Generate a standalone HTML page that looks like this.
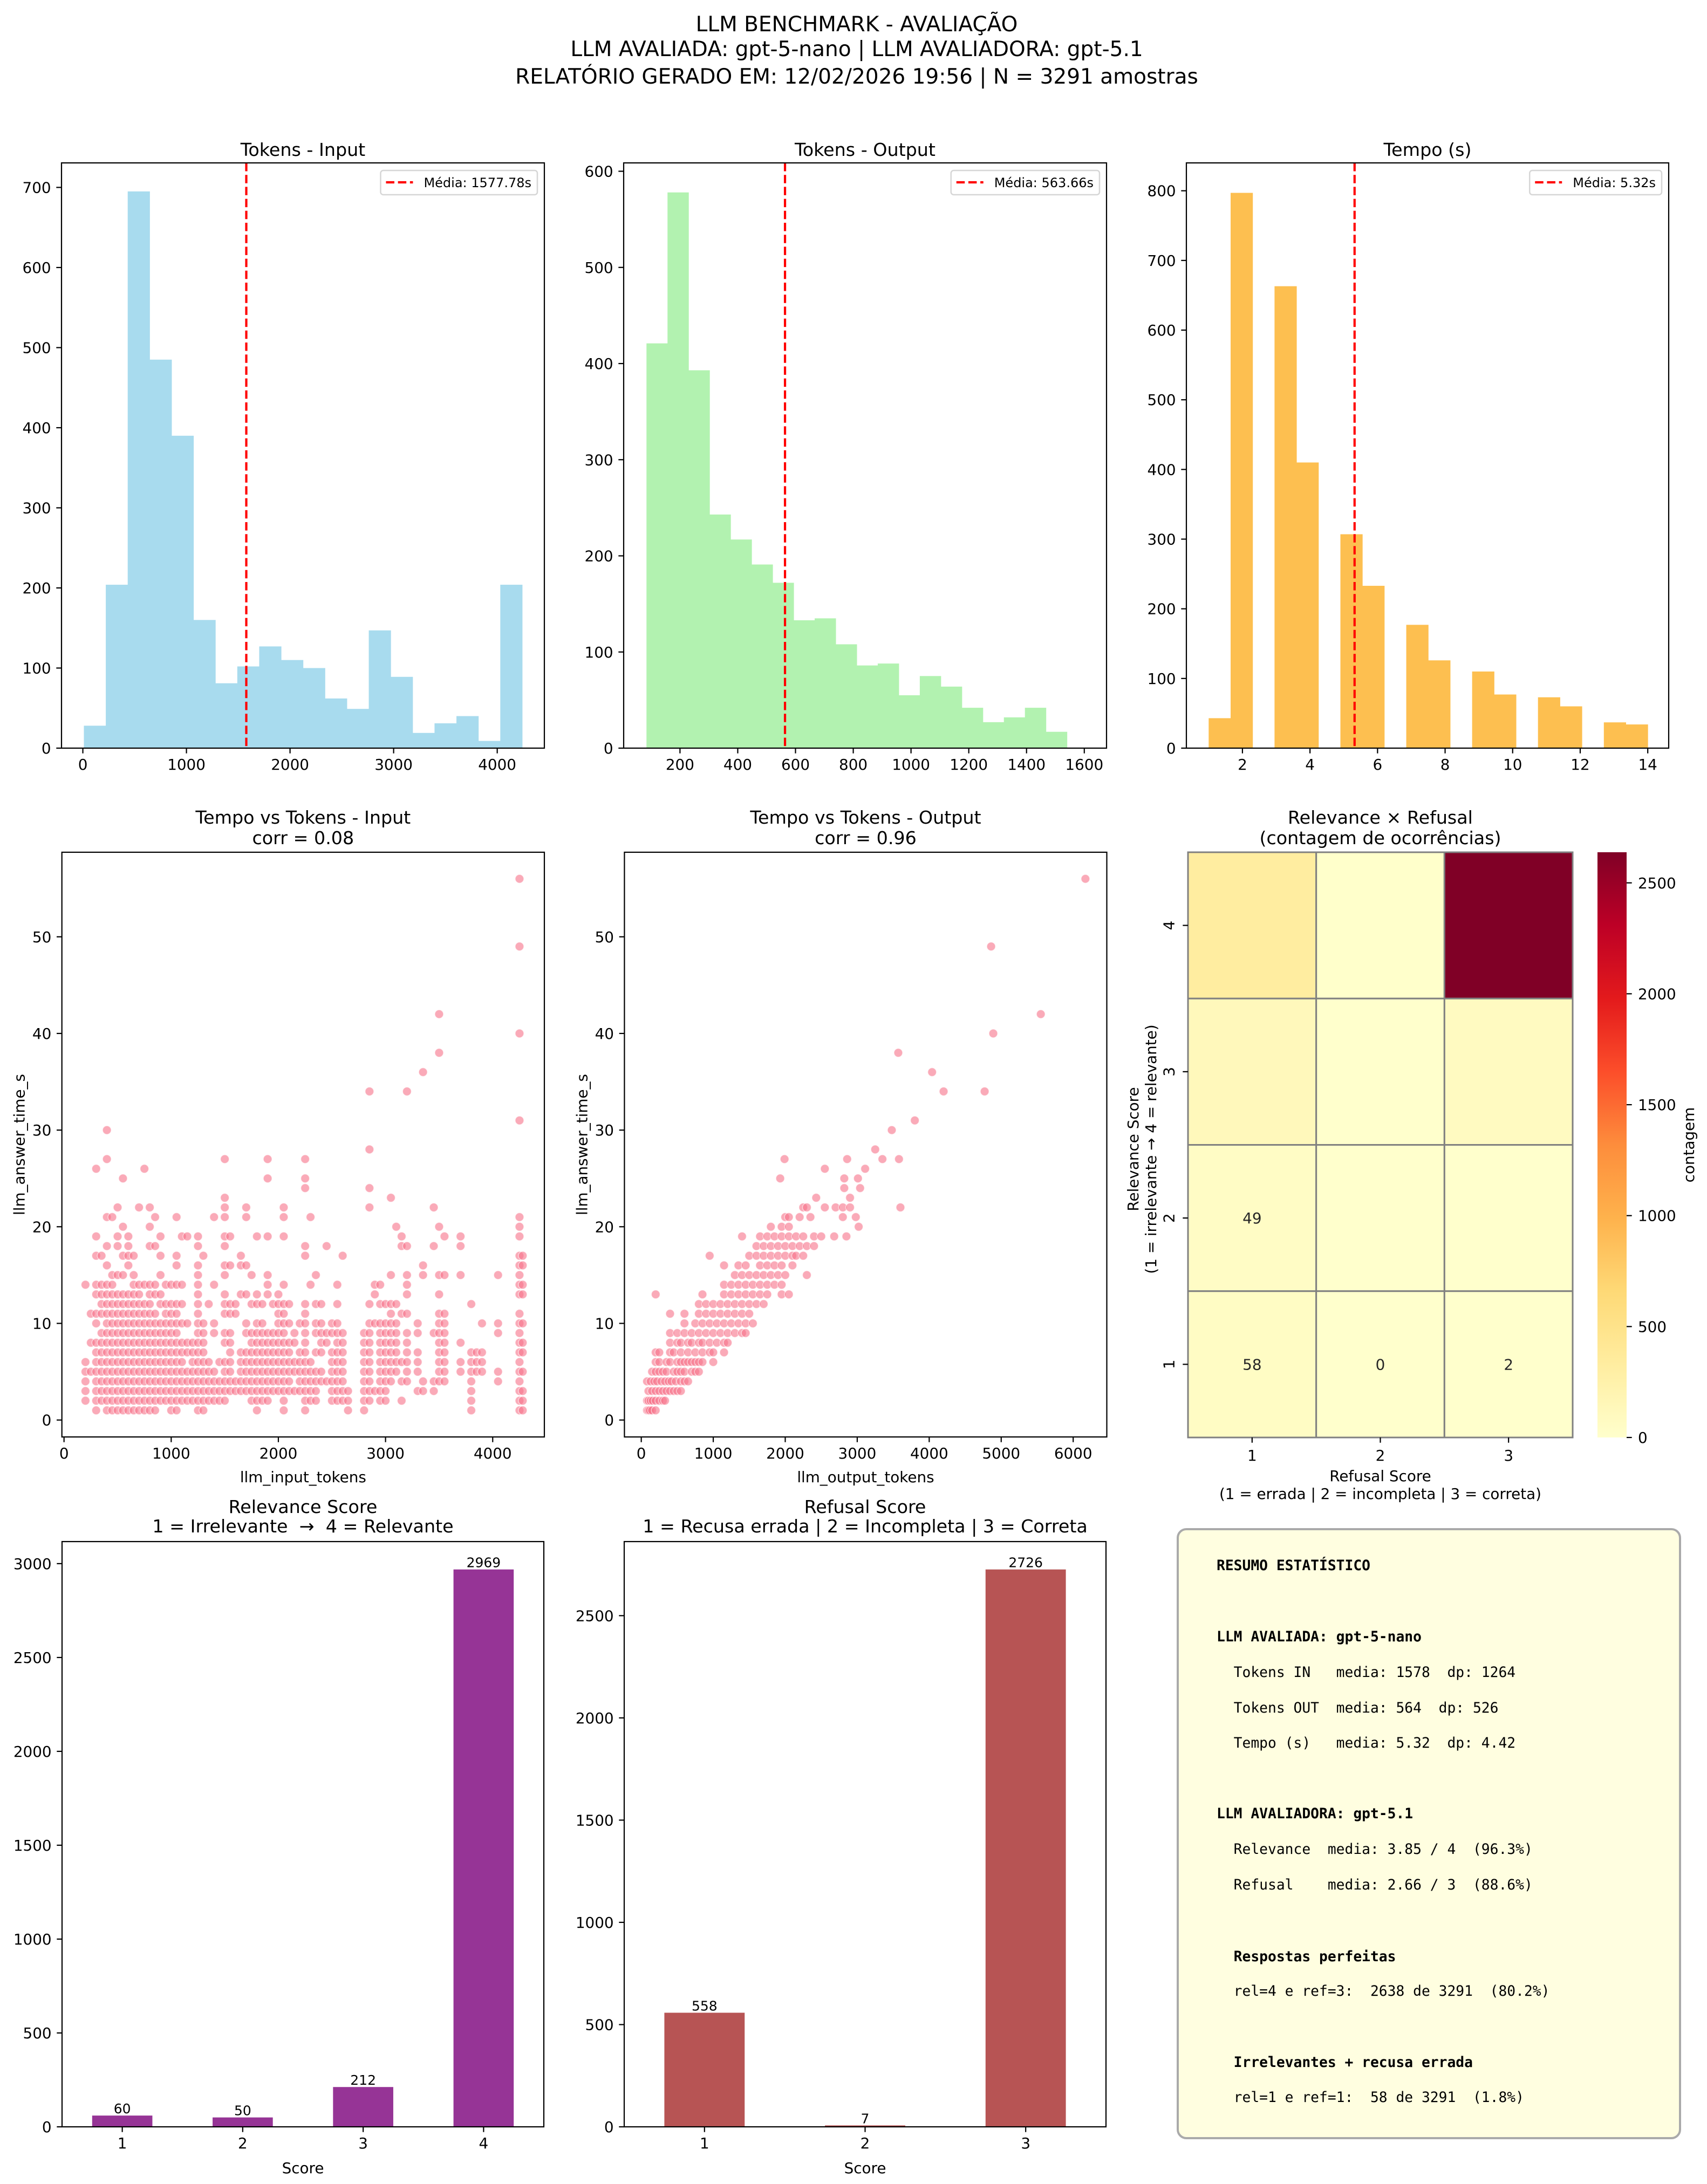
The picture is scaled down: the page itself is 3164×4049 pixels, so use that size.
<!DOCTYPE html>
<html><head><meta charset="utf-8">
<style>
html,body{margin:0;padding:0;background:#fff;}
svg{display:block;font-family:"DejaVu Sans","Liberation Sans",sans-serif;}
svg text{white-space:pre;}
.mono{font-family:"DejaVu Sans Mono","Liberation Mono",monospace;}
</style></head>
<body>
<svg id="fig" xmlns="http://www.w3.org/2000/svg" width="3164" height="4049" viewBox="0 0 3164 4049">
<rect width="3164" height="4049" fill="#fff"/>
<g font-size="39" text-anchor="middle">
<text x="1588" y="58">LLM BENCHMARK - AVALIAÇÃO</text>
<text x="1588" y="104">LLM AVALIADA: gpt-5-nano | LLM AVALIADORA: gpt-5.1</text>
<text x="1588" y="155">RELATÓRIO GERADO EM: 12/02/2026 19:56 | N = 3291 amostras</text>
</g>
<g>
<rect x="2183" y="2835" width="931" height="1129" rx="16" fill="#fffee0" stroke="#aaaaaa" stroke-width="4"/>
<g class="mono" font-size="26.3">
<text x="2255" y="2911" font-weight="bold">RESUMO ESTATÍSTICO</text>
<text x="2255" y="3043" font-weight="bold">LLM AVALIADA: gpt-5-nano</text>
<text x="2255" y="3109">  Tokens IN   media: 1578  dp: 1264</text>
<text x="2255" y="3175">  Tokens OUT  media: 564  dp: 526</text>
<text x="2255" y="3240">  Tempo (s)   media: 5.32  dp: 4.42</text>
<text x="2255" y="3371" font-weight="bold">LLM AVALIADORA: gpt-5.1</text>
<text x="2255" y="3437">  Relevance  media: 3.85 / 4  (96.3%)</text>
<text x="2255" y="3503">  Refusal    media: 2.66 / 3  (88.6%)</text>
<text x="2255" y="3636" font-weight="bold">  Respostas perfeitas</text>
<text x="2255" y="3700">  rel=4 e ref=3:  2638 de 3291  (80.2%)</text>
<text x="2255" y="3832" font-weight="bold">  Irrelevantes + recusa errada</text>
<text x="2255" y="3897">  rel=1 e ref=1:  58 de 3291  (1.8%)</text>
</g>
</g>
</svg>
<script>
// ---------- DATA ----------
const inCounts = [28,204,695,485,390,160,81,102,127,110,100,62,49,147,89,19,31,40,9,204];
const inBinStart = 10, inBinWidth = 211.55, inMean = 1577.78;
const outCounts = [421,578,393,243,217,191,172,133,135,108,86,88,55,75,64,42,27,32,42,17];
const outBinStart = 84, outBinWidth = 72.8, outMean = 563.66;
const timeCounts = [43,797,0,663,410,0,307,233,0,177,126,0,110,77,0,73,60,0,37,34];
const timeBinStart = 1, timeBinWidth = 0.65, timeMean = 5.32;

// scatter input: [tokens, [times...]]
const inputCols = [
[200,[2,3,4,5,6,14]],[250,[5,8,11]],[300,[1,2,3,4,5,6,7,8,10,11,13,14,17,19,26]],
[350,[2,3,4,5,6,7,8,9,11,12,13,14,17]],[400,[1,2,3,4,5,6,7,8,9,10,11,12,13,14,16,18,21,27,30]],
[450,[1,2,3,4,5,6,7,8,9,10,11,12,13,14,15,21]],[500,[1,2,3,4,5,6,7,8,9,10,11,12,13,15,18,19,22]],
[550,[1,2,3,4,5,6,7,8,9,10,11,12,13,15,17,20,25]],[600,[1,2,3,4,5,6,7,8,9,10,11,12,13,16,17,18,19]],
[650,[1,2,3,4,5,6,7,8,9,10,11,12,13,14,15,17]],[700,[1,2,3,4,5,6,7,8,9,10,11,12,13,14,22]],
[750,[1,2,3,4,5,6,7,8,9,10,11,12,14,26]],[800,[1,2,3,4,5,6,7,8,9,10,11,12,13,14,18,20,22]],
[850,[1,2,3,4,5,6,7,8,9,10,11,13,14,18,21]],[900,[2,3,4,5,6,7,8,9,10,12,13,15,17,19]],
[950,[2,3,4,5,6,7,8,9,10,11,12,14]],[1000,[1,2,3,4,5,6,7,8,9,10,11,12,14]],
[1050,[1,2,3,4,5,6,7,8,9,10,11,12,14,16,17,21]],[1100,[2,3,4,5,6,7,8,10,12,14,19]],
[1150,[2,3,4,5,7,8,10,19]],[1200,[2,3,4,5,6,7,8]],
[1250,[1,2,3,4,5,6,7,8,9,10,11,12,13,14,15,16,18,19]],[1300,[1,2,3,4,5,6,7,8,9,10,17]],
[1350,[2,3,4,5,6,12]],[1400,[2,3,4,5,9,10,14,21]],[1450,[2,3,4,6]],
[1500,[2,3,4,5,6,8,9,11,12,13,15,16,18,19,21,22,23,27]],[1550,[3,4,5,6,7,8,9,11,12,16,19]],
[1600,[3,4,11,12]],[1650,[3,4,5,6,7,13,16,17]],[1700,[3,4,5,6,7,9,10,13,16,21,22]],
[1750,[2,3,4,5,6,7,8,9,12,15]],[1800,[1,2,3,4,5,6,7,8,9,10,12,13,19]],
[1850,[2,3,4,5,6,7,8,9,10,12]],[1900,[2,3,4,5,6,7,8,9,13,14,15,19,25,27]],
[1950,[3,4,5,6,7,8,9,12]],[2000,[3,4,5,6,7,8,9,10,11,12,13]],
[2050,[1,2,3,4,5,6,7,8,9,10,11,12,14,19,21,22]],[2100,[3,4,5,6,7,8,10,12]],
[2150,[3,5,6,8,9]],[2200,[3,4,5,6,7,10]],
[2250,[1,2,3,4,5,6,7,8,9,10,11,12,17,18,24,25,27]],[2300,[2,3,4,5,6,14,21]],
[2350,[2,3,4,5,7,9,10,12,15]],[2400,[4,5,7,8,9,10,12]],[2450,[4,8,9,18]],
[2500,[2,3,4,5,6,7,9,10]],[2550,[2,3,4,5,6,7,8,9,10,12,14]],[2600,[2,3,4,5,6,7,8,9,17]],
[2650,[1,2,3]],[2800,[1,2,3,4,5,6,7,8,9]],[2850,[2,3,4,5,6,7,8,9,10,12,22,24,28,34]],
[2900,[3,10,13,14]],[2950,[2,3,4,5,6,7,8,9,10,12,14]],[3000,[2,3,4,5,6,7,8,9,10,12]],
[3050,[4,5,6,7,8,9,10,11,12,15,23]],[3100,[5,6,7,8,9,10,12,20]],[3150,[2,4,6,11,18,19]],
[3200,[4,5,6,7,8,9,11,13,14,15,18,34]],[3300,[3,5,6,7,9,10]],[3350,[3,4,15,16,36]],
[3450,[3,4,9,18,22]],[3500,[4,5,6,7,8,9,10,11,13,15,20,38,42]],[3550,[4,5,6,7,8,9,10,11,15,19]],
[3700,[5,6,8,15,18,19]],[3800,[1,2,3,4,5,6,7,12]],[3850,[5,6,7]],[3900,[5,6,7,10]],
[4050,[4,5,9,10,15]],[4250,[1,2,3,4,5,6,7,8,9,10,11,13,14,15,16,17,19,20,21,31,40,49,56]],
[4280,[1,2,3,5,7,8,10,13,14,16,17]]
];
// scatter output: [time, [tokens...]]
const outputRows = [
[1,[80,100,120,150,200]],[2,[80,100,130,160,200,250,300,330]],
[3,[100,150,200,250,300,350,400,450,500,550]],[4,[80,130,180,220,280,330,380,420,480,550,600,650]],
[5,[150,200,250,300,350,450,500,550,600,700,750,800]],[6,[200,250,350,400,500,550,600,650,700,750,800,850,1000]],
[7,[200,250,400,450,550,650,750,850,950,1000,1150]],[8,[400,500,550,650,700,800,850,950,1050,1150,1200]],
[9,[400,500,600,700,800,900,1000,1100,1200,1300,1400,1450]],[10,[600,750,850,950,1050,1150,1250,1350,1450,1550]],
[11,[400,600,800,900,1000,1100,1200,1300,1400,1500]],[12,[800,900,1000,1100,1200,1300,1400,1500,1600,1700]],
[13,[200,850,1150,1250,1350,1450,1550,1650,1750,1950,2050]],[14,[1150,1250,1350,1450,1550,1650,1750,1850,1950]],
[15,[1300,1400,1500,1600,1700,1800,1900,2000,2300]],[16,[1150,1350,1450,1650,1750,1850,1950,2100]],
[17,[950,1500,1600,1700,1800,1900,2000,2100,2150,2250]],[18,[1600,1700,1800,1900,2000,2100,2200,2300,2400]],
[19,[1400,1650,1750,1850,1950,2050,2150,2250,2400,2500,2680,2850]],[20,[1800,1950,2050,3020]],
[21,[2000,2050,2200,2350,2800,2980]],[22,[2250,2300,2550,2700,2800,2900,3600]],[23,[2430,2900]],
[24,[2820,3040]],[25,[1930,2820,3010]],[26,[2550,3110]],[27,[1990,2860,3350,3580]],[28,[3250]],
[30,[3480]],[31,[3800]],[34,[4200,4770]],[36,[4040]],[38,[3570]],[40,[4890]],[42,[5550]],[49,[4860]],[56,[6170]]
];
// heatmap: rows relevance 4..1, cols refusal 1..3
const heatRowLabels = ["4","3","2","1"];
const heatColLabels = ["1","2","3"];
const heatValues = [[327,4,2638],[124,3,85],[49,0,1],[58,0,2]];
const heatAnnot = [[null,null,null],[null,null,null],["49",null,null],["58","0","2"]];
const relCats = ["1","2","3","4"];
const relValues = [60,50,212,2969];
const refCats = ["1","2","3"];
const refValues = [558,7,2726];

// ---------- HELPERS ----------
const svg = document.getElementById('fig');
const NS = 'http://www.w3.org/2000/svg';
function mk(tag, attrs, parent){const e=document.createElementNS(NS,tag);for(const k in attrs)e.setAttribute(k,attrs[k]);(parent||svg).appendChild(e);return e;}
function txt(s, attrs, parent){const e=mk('text',attrs,parent);e.textContent=s;return e;}
const TF=27.8, SW=2.2, TL=9.7;
function makeAxes(x0,y0,x1,y1,xl,yl){
  return {x0,y0,x1,y1,
    sx:v=>x0+(v-xl[0])/(xl[1]-xl[0])*(x1-x0),
    sy:v=>y1-(v-yl[0])/(yl[1]-yl[0])*(y1-y0)};
}
function frame(ax,name){
  const r=mk('rect',{x:ax.x0,y:ax.y0,width:ax.x1-ax.x0,height:ax.y1-ax.y0,fill:'none',stroke:'#000','stroke-width':SW});
  
  
}
function xTicks(ax,vals,labels,name){
  const g=mk('g',{});
  
  
  vals.forEach((v,i)=>{const x=ax.sx(v);
    mk('line',{x1:x,x2:x,y1:ax.y1,y2:ax.y1+TL,stroke:'#000','stroke-width':SW},g);
    txt(labels[i],{x:x,y:ax.y1+TL+9.7+20.5,'font-size':TF,'text-anchor':'middle'},g);});
}
function yTicks(ax,vals,labels,name){
  const g=mk('g',{});
  
  
  vals.forEach((v,i)=>{const y=ax.sy(v);
    mk('line',{x1:ax.x0-TL,x2:ax.x0,y1:y,y2:y,stroke:'#000','stroke-width':SW},g);
    txt(labels[i],{x:ax.x0-TL-9.7,y:y+10,'font-size':TF,'text-anchor':'end'},g);});
}
function title(ax,lines,baseY,name){
  const g=mk('g',{});
  
  
  lines.forEach((l,i)=>txt(l,{x:(ax.x0+ax.x1)/2,y:baseY[i],'font-size':33.3,'text-anchor':'middle'},g));
}
function range(a,b,s){const r=[];for(let v=a;v<=b+1e-9;v+=s)r.push(v);return r;}

// ---------- HISTOGRAMS ----------
function hist(ax,counts,start,width,color,mean,name){
  const g=mk('g',{});
  
  
  counts.forEach((c,i)=>{ if(c<=0) return;
    const a=start+i*width, b=a+width;
    const r=mk('rect',{x:ax.sx(a),y:ax.sy(c),width:ax.sx(b)-ax.sx(a)+0.5,height:ax.sy(0)-ax.sy(c),fill:color},g);
    
    
  });
  const ml=mk('line',{x1:ax.sx(mean),x2:ax.sx(mean),y1:ax.y0,y2:ax.y1,stroke:'#ff0000','stroke-width':4.2,'stroke-dasharray':'15.5 6.7'});
  
  
  // legend
  const lg=mk('g',{});
  
  
  const box=mk('rect',{x:0,y:ax.y0+14,width:10,height:45,rx:5,fill:'#fff','fill-opacity':0.8,stroke:'#d6d6d6','stroke-width':2.5},lg);
  const t=txt('Média: '+mean.toFixed(2)+'s',{x:0,y:ax.y0+45,'font-size':24},lg);
  const tw=t.getComputedTextLength();
  const right=ax.x1-13, left=right-tw-91;
  box.setAttribute('x',left); box.setAttribute('width',right-left);
  t.setAttribute('x',left+80);
  mk('line',{x1:left+10,x2:left+60,y1:ax.y0+36,y2:ax.y0+36,stroke:'#ff0000','stroke-width':4.2,'stroke-dasharray':'15.5 6.7'},lg);
}
const ROW1=[302,1387];
const a1=makeAxes(114,ROW1[0],1009,ROW1[1],[-206,4455],[0,730.6]);
hist(a1,inCounts,inBinStart,inBinWidth,'#a8dbee',inMean,'tokens-input-hist');
xTicks(a1,range(0,4000,1000),['0','1000','2000','3000','4000'],'tokens-input-x-ticks');
yTicks(a1,range(0,700,100),range(0,700,100).map(String),'tokens-input-y-ticks');
frame(a1,'tokens-input-axes'); title(a1,['Tokens - Input'],[289],'tokens-input-title');

const a2=makeAxes(1156,ROW1[0],2051,ROW1[1],[5,1677],[0,608.7]);
hist(a2,outCounts,outBinStart,outBinWidth,'#b2f2b0',outMean,'tokens-output-hist');
xTicks(a2,range(200,1600,200),range(200,1600,200).map(String),'tokens-output-x-ticks');
yTicks(a2,range(0,600,100),range(0,600,100).map(String),'tokens-output-y-ticks');
frame(a2,'tokens-output-axes'); title(a2,['Tokens - Output'],[289],'tokens-output-title');

const a3=makeAxes(2199,ROW1[0],3093,ROW1[1],[0.34,14.62],[0,840]);
hist(a3,timeCounts,timeBinStart,timeBinWidth,'#fdbf50',timeMean,'tempo-hist');
xTicks(a3,range(2,14,2),range(2,14,2).map(String),'tempo-x-ticks');
yTicks(a3,range(0,800,100),range(0,800,100).map(String),'tempo-y-ticks');
frame(a3,'tempo-axes'); title(a3,['Tempo (s)'],[289],'tempo-title');

// ---------- SCATTERS ----------
const ROW2=[1580,2664];
function dot(ax,x,y,g){
  const c=mk('circle',{cx:ax.sx(x),cy:ax.sy(y),r:8,fill:'#f77189','fill-opacity':0.6,stroke:'#fff','stroke-width':1.4,'stroke-opacity':0.6},g);
  
  
}
function ylabelScatter(ax,name){
  const t=txt('llm_answer_time_s',{x:0,y:0,'font-size':TF,'text-anchor':'middle',transform:`translate(${ax.x0-69},${(ax.y0+ax.y1)/2}) rotate(-90)`});
  
  
}
const s1=makeAxes(114.7,ROW2[0],1009,ROW2[1],[-20,4482],[-1.75,58.75]);
const g1=mk('g',{});


inputCols.forEach(([x,ys])=>ys.forEach(y=>dot(s1,x,y,g1)));
xTicks(s1,range(0,4000,1000),['0','1000','2000','3000','4000'],'scatter-input-x-ticks');
yTicks(s1,range(0,50,10),range(0,50,10).map(String),'scatter-input-y-ticks');
frame(s1,'scatter-input-axes');
title(s1,['Tempo vs Tokens - Input','corr = 0.08'],[1527,1565],'scatter-input-title');
ylabelScatter(s1,'scatter-input-y-label');
(function(){const t=txt('llm_input_tokens',{x:(s1.x0+s1.x1)/2,y:2748,'font-size':TF,'text-anchor':'middle'});

})();

const s2=makeAxes(1157.4,ROW2[0],2051.5,ROW2[1],[-234,6467],[-1.75,58.75]);
const g2=mk('g',{});


outputRows.forEach(([y,xs])=>xs.forEach(x=>dot(s2,x,y,g2)));
xTicks(s2,range(0,6000,1000),range(0,6000,1000).map(String),'scatter-output-x-ticks');
yTicks(s2,range(0,50,10),range(0,50,10).map(String),'scatter-output-y-ticks');
frame(s2,'scatter-output-axes');
title(s2,['Tempo vs Tokens - Output','corr = 0.96'],[1527,1565],'scatter-output-title');
ylabelScatter(s2,'scatter-output-y-label');
(function(){const t=txt('llm_output_tokens',{x:(s2.x0+s2.x1)/2,y:2748,'font-size':TF,'text-anchor':'middle'});

})();

// ---------- HEATMAP ----------
const ylStops=['#ffffcc','#ffeda0','#fed976','#feb24c','#fd8d3c','#fc4e2a','#e31a1c','#bd0026','#800026'];
function hex2rgb(h){return [1,3,5].map(i=>parseInt(h.substr(i,2),16));}
function cmap(t){t=Math.max(0,Math.min(1,t));const p=t*(ylStops.length-1);const i=Math.min(Math.floor(p),ylStops.length-2);const f=p-i;
  const a=hex2rgb(ylStops[i]),b=hex2rgb(ylStops[i+1]);return 'rgb('+a.map((v,k)=>Math.round(v+(b[k]-v)*f)).join(',')+')';}
const vmax=Math.max(...heatValues.flat());
const H={x0:2202,x1:2915,y0:1580,y1:2665};
const cw=(H.x1-H.x0)/heatColLabels.length, ch=(H.y1-H.y0)/heatRowLabels.length;
const hg=mk('g',{});


heatValues.forEach((row,r)=>row.forEach((v,c)=>{
  const rc=mk('rect',{x:H.x0+c*cw,y:H.y0+r*ch,width:cw,height:ch,fill:cmap(v/vmax),stroke:'#808080','stroke-width':3},hg);
  
  
  if(heatAnnot[r][c]!==null){
    const t=txt(heatAnnot[r][c],{x:H.x0+(c+0.5)*cw,y:H.y0+(r+0.5)*ch+10,'font-size':27.8,'text-anchor':'middle',fill:'#262626'},hg);
    
    
  }
}));
(function(){
  const g=mk('g',{});
  
  
  heatColLabels.forEach((l,i)=>{const x=H.x0+(i+0.5)*cw;
    mk('line',{x1:x,x2:x,y1:H.y1,y2:H.y1+TL,stroke:'#000','stroke-width':SW},g);
    txt(l,{x:x,y:2708,'font-size':TF,'text-anchor':'middle'},g);});
  const gy=mk('g',{});
  
  
  heatRowLabels.forEach((l,i)=>{const y=H.y0+(i+0.5)*ch;
    mk('line',{x1:H.x0-TL,x2:H.x0,y1:y,y2:y,stroke:'#000','stroke-width':SW},gy);
    txt(l,{x:0,y:0,'font-size':TF,'text-anchor':'middle',transform:`translate(${H.x0-TL-16},${y}) rotate(-90)`},gy);});
  const xl=mk('g',{});
  
  
  txt('Refusal Score',{x:(H.x0+H.x1)/2,y:2746,'font-size':TF,'text-anchor':'middle'},xl);
  txt('(1 = errada | 2 = incompleta | 3 = correta)',{x:(H.x0+H.x1)/2,y:2779,'font-size':TF,'text-anchor':'middle'},xl);
  const yl=mk('g',{transform:`translate(2110,${(H.y0+H.y1)/2+8}) rotate(-90)`});
  
  
  txt('Relevance Score',{x:0,y:0,'font-size':TF,'text-anchor':'middle'},yl);
  txt('(1 = irrelevante → 4 = relevante)',{x:0,y:33,'font-size':TF,'text-anchor':'middle'},yl);
  title({x0:H.x0,x1:H.x1},['Relevance × Refusal','(contagem de ocorrências)'],[1527,1565],'heatmap-title');
  // colorbar
  const cb=mk('g',{});
  
  
  const defs=mk('defs',{},cb);
  const lgd=mk('linearGradient',{id:'cbg',x1:0,y1:1,x2:0,y2:0},defs);
  ylStops.forEach((c,i)=>mk('stop',{offset:i/(ylStops.length-1),'stop-color':c},lgd));
  const C={x0:2961,x1:3015,y0:1580,y1:2665};
  mk('rect',{x:C.x0,y:C.y0,width:C.x1-C.x0,height:C.y1-C.y0,fill:'url(#cbg)'},cb);
  range(0,2500,500).forEach(v=>{const y=C.y1-v/vmax*(C.y1-C.y0);
    mk('line',{x1:C.x1,x2:C.x1+TL,y1:y,y2:y,stroke:'#000','stroke-width':SW},cb);
    txt(String(v),{x:3036,y:y+10,'font-size':TF},cb);});
  txt('contagem',{x:0,y:0,'font-size':TF,'text-anchor':'middle',transform:`translate(3140,${(C.y0+C.y1)/2}) rotate(-90)`},cb);
})();

// ---------- BAR CHARTS ----------
const ROW3=[2858,3943];
function bars(ax,cats,vals,color,name){
  const g=mk('g',{});
  
  
  cats.forEach((c,i)=>{
    const r=mk('rect',{x:ax.sx(i-0.25),y:ax.sy(vals[i]),width:ax.sx(i+0.25)-ax.sx(i-0.25),height:Math.max(ax.sy(0)-ax.sy(vals[i]),0.5),fill:color},g);
    
    
    const t=txt(String(vals[i]),{x:ax.sx(i),y:ax.sy(vals[i])-4,'font-size':25,'text-anchor':'middle'},g);
    
    
  });
  xTicks(ax,cats.map((c,i)=>i),cats,name+'-x-ticks');
  const xl=txt('Score',{x:(ax.x0+ax.x1)/2,y:4029,'font-size':TF,'text-anchor':'middle'});
  
  
}
const relMax=Math.max(...relValues)*1.05, refMax=Math.max(...refValues)*1.05;
const b1=makeAxes(115,ROW3[0],1008,ROW3[1],[-0.5,relCats.length-0.5],[0,relMax]);
bars(b1,relCats,relValues,'#963496','relevance');
yTicks(b1,range(0,3000,500),range(0,3000,500).map(String),'relevance-y-ticks');
frame(b1,'relevance-axes');
title(b1,['Relevance Score','1 = Irrelevante  →  4 = Relevante'],[2805,2841],'relevance-title');
const b2=makeAxes(1157,ROW3[0],2050,ROW3[1],[-0.5,refCats.length-0.5],[0,refMax]);
bars(b2,refCats,refValues,'#b75454','refusal');
yTicks(b2,range(0,2500,500),range(0,2500,500).map(String),'refusal-y-ticks');
frame(b2,'refusal-axes');
title(b2,['Refusal Score','1 = Recusa errada | 2 = Incompleta | 3 = Correta'],[2805,2841],'refusal-title');
</script>
</body></html>
